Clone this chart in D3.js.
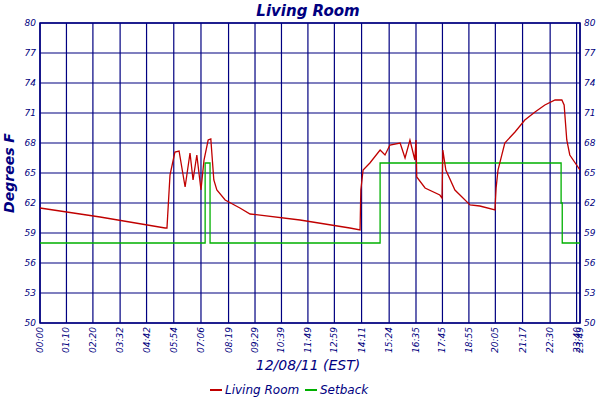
<!DOCTYPE html>
<html><head><meta charset="utf-8">
<script src="https://cdn.jsdelivr.net/npm/d3@7"></script>
<style>body{margin:0;background:#fff}text{font-family:"DejaVu Sans",sans-serif;font-style:italic;fill:#000080}</style>
</head><body><div id="chart"></div>
<script>
// minutes since midnight -> degrees F
const roomTimes = [0,159,331,336,344,357,368,384,397,405,415,426,434,445,452,460,468,490,529,556,688,820,847,849,855,873,900,913,926,953,966,979,992,995,997,1019,1058,1064,1066,1074,1098,1138,1164,1204,1207,1212,1230,1257,1283,1310,1336,1363,1381,1387,1394,1402,1429];
const roomTemps = [61.5,60.6,59.5,59.5,64.8,67.1,67.2,63.6,67.0,64.3,66.8,63.3,66.3,68.3,68.4,64.3,63.3,62.3,61.5,60.9,60.3,59.5,59.3,63.3,65.3,66.0,67.3,66.8,67.8,68.0,66.5,68.3,66.3,68.3,64.6,63.5,62.8,62.5,67.3,65.3,63.3,61.8,61.7,61.3,63.5,65.3,68.0,69.1,70.3,71.1,71.8,72.3,72.3,71.8,68.3,66.8,65.3];
const setTimes = [0,437,437,450,450,900,900,1379,1379,1382,1382,1429];
const setTemps = [58,58,66,66,58,58,66,66,62,62,58,58];
const xTickLabels = ["00:00","01:10","02:20","03:32","04:42","05:54","07:06","08:19","09:29","10:39","11:49","12:59","14:11","15:24","16:35","17:45","18:55","20:05","21:17","22:30","23:40","23:49"];
const yTicks = [50,53,56,59,62,65,68,71,74,77,80];

const pLeft = 40, pRight = 580, pTop = 23, pBottom = 323;
const svg = d3.select("#chart").append("svg").attr("width", 600).attr("height", 400);

const toMin = s => { const p = s.split(":"); return +p[0] * 60 + +p[1]; };
const x = d3.scaleLinear().domain([0, 1429]).range([pLeft, pRight]);
const y = d3.scaleLinear().domain([50, 80]).range([pBottom, pTop]);

// grid
svg.append("g").selectAll("line").data(xTickLabels).join("line")
    .attr("x1", d => x(toMin(d))).attr("x2", d => x(toMin(d)))
    .attr("y1", pTop).attr("y2", pBottom)
    .attr("stroke", "#000080").attr("stroke-width", 1.2);
svg.append("g").selectAll("line").data(yTicks).join("line")
    .attr("x1", pLeft).attr("x2", pRight)
    .attr("y1", d => y(d)).attr("y2", d => y(d))
    .attr("stroke", "#000080").attr("stroke-width", 1.2);
svg.append("rect").attr("x", pLeft).attr("y", pTop).attr("width", pRight - pLeft).attr("height", pBottom - pTop)
    .attr("fill", "none").attr("stroke", "#000080").attr("stroke-width", 1.5);

// y labels both sides
svg.append("g").selectAll("text").data(yTicks).join("text")
    .attr("x", pLeft - 4).attr("y", d => y(d) + 3).attr("text-anchor", "end")
    .attr("font-size", 9).text(d => d);
svg.append("g").selectAll("text").data(yTicks).join("text")
    .attr("x", pRight + 4).attr("y", d => y(d) + 3)
    .attr("font-size", 9).text(d => d);

// x labels rotated
svg.append("g").selectAll("text").data(xTickLabels).join("text")
    .attr("transform", d => "translate(" + (x(toMin(d)) + 3) + "," + (pBottom + 4) + ")rotate(-90)")
    .attr("text-anchor", "end").attr("font-size", 9).text(d => d);

// lines
const line = d3.line().x(d => x(d[0])).y(d => y(d[1]));
svg.append("path").datum(setTimes.map((t, i) => [t, setTemps[i]]))
    .attr("d", line).attr("fill", "none").attr("stroke", "#00b000").attr("stroke-width", 1.3);
svg.append("path").datum(roomTimes.map((t, i) => [t, roomTemps[i]]))
    .attr("d", line).attr("fill", "none").attr("stroke", "#c00000").attr("stroke-width", 1.3);

// titles
svg.append("text").attr("x", 308).attr("y", 16).attr("text-anchor", "middle")
    .attr("font-size", 15).attr("font-weight", "bold").text("Living Room");
svg.append("text").attr("transform", "translate(14,173)rotate(-90)").attr("text-anchor", "middle")
    .attr("font-size", 14).attr("font-weight", "bold").text("Degrees F");
svg.append("text").attr("x", 308).attr("y", 370).attr("text-anchor", "middle")
    .attr("font-size", 14).text("12/08/11 (EST)");

// legend
const legend = [["Living Room", "#c00000", 210], ["Setback", "#00b000", 305]];
legend.forEach(l => {
    svg.append("line").attr("x1", l[2]).attr("x2", l[2] + 12).attr("y1", 390).attr("y2", 390)
        .attr("stroke", l[1]).attr("stroke-width", 2);
    svg.append("text").attr("x", l[2] + 15).attr("y", 394).attr("font-size", 12).text(l[0]);
});
</script></body></html>
